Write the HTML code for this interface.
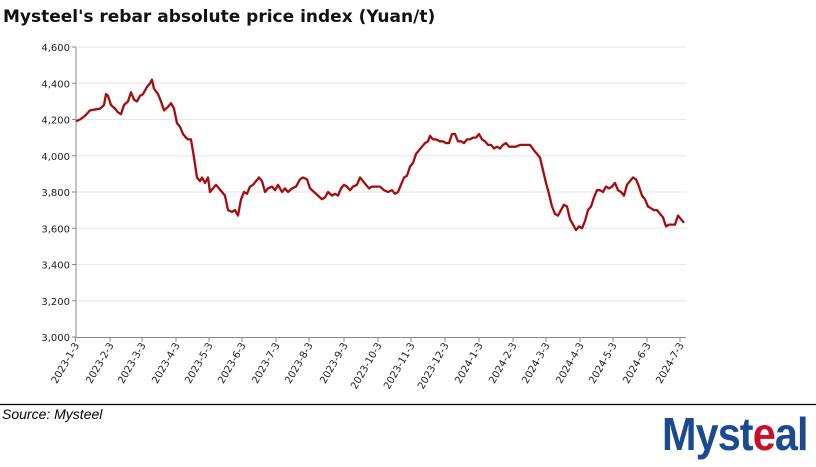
<!DOCTYPE html>
<html><head><style>
body{margin:0;width:816px;height:462px;background:#fff;overflow:hidden;font-family:"Liberation Sans",sans-serif;}
</style></head><body>
<svg width="816" height="462" xmlns="http://www.w3.org/2000/svg">
<text x="3" y="22" font-family="DejaVu Sans,sans-serif" font-weight="bold" font-size="17" fill="#111">Mysteel's rebar absolute price index (Yuan/t)</text>
<g id="grid" stroke="#e6e6e6" stroke-width="1"></g>
<g id="yl" font-family="DejaVu Sans,sans-serif" font-size="10" fill="#222" text-anchor="end"></g>
<line x1="76" y1="47" x2="76" y2="337.5" stroke="#888"/>
<line x1="76" y1="337.5" x2="686" y2="337.5" stroke="#888"/>
<g id="xl" font-family="DejaVu Sans,sans-serif" font-size="10" fill="#222" text-anchor="end"></g>
<polyline id="ln" fill="none" stroke="#a50d0d" stroke-width="2.3" stroke-linejoin="round"/>
<line x1="0" y1="404.5" x2="816" y2="404.5" stroke="#000" stroke-width="1.2"/>
<text x="2" y="419" font-style="italic" font-size="14" fill="#000">Source: Mysteel</text>
<text x="662" y="450" font-weight="bold" font-size="46" fill="#1b4a8f" transform="translate(662 0) scale(0.9 1) translate(-662 0)" letter-spacing="-1">Myst<tspan fill="#c8102e">e</tspan>al</text>
</svg>
<script>
const Y=v=>47+(4600-v)*0.18125;
const g=document.getElementById('grid'),yl=document.getElementById('yl'),xl=document.getElementById('xl');
const ns='http://www.w3.org/2000/svg';
for(let v=3000;v<=4600;v+=200){const y=Y(v);
 if(v>3000){let l=document.createElementNS(ns,'line');l.setAttribute('x1',76);l.setAttribute('x2',686);l.setAttribute('y1',y);l.setAttribute('y2',y);g.appendChild(l);}
 let t=document.createElementNS(ns,'text');t.setAttribute('x',70);t.setAttribute('y',y+4);t.textContent=(v/1000|0)+','+String(v%1000).padStart(3,'0');yl.appendChild(t);
 let k=document.createElementNS(ns,'line');k.setAttribute('x1',72);k.setAttribute('x2',76);k.setAttribute('y1',y);k.setAttribute('y2',y);k.setAttribute('stroke','#888');yl.appendChild(k);}
const xs=[75.5,110,142,176,209,242,276,309,344,378,411,445,479,513,546,580,613,647,680];
const lb=['2023-1-3','2023-2-3','2023-3-3','2023-4-3','2023-5-3','2023-6-3','2023-7-3','2023-8-3','2023-9-3','2023-10-3','2023-11-3','2023-12-3','2024-1-3','2024-2-3','2024-3-3','2024-4-3','2024-5-3','2024-6-3','2024-7-3'];
xs.forEach((x,i)=>{let k=document.createElementNS(ns,'line');k.setAttribute('x1',x);k.setAttribute('x2',x);k.setAttribute('y1',337.5);k.setAttribute('y2',342);k.setAttribute('stroke','#888');xl.appendChild(k);
 let t=document.createElementNS(ns,'text');t.setAttribute('transform',`translate(${x+4},${345}) rotate(-60)`);t.textContent=lb[i];xl.appendChild(t);});
const d=[76,4190,80,4200,85,4220,90,4250,95,4255,100,4260,104,4280,106,4340,108,4330,111,4280,115,4260,118,4240,121,4230,124,4280,128,4300,131,4350,134,4310,137,4300,140,4330,143,4340,147,4380,150,4400,152,4420,154,4370,158,4340,161,4300,164,4250,168,4270,171,4290,174,4260,177,4180,180,4160,183,4120,186,4100,188,4090,191,4090,194,3990,197,3880,200,3860,202,3880,205,3850,208,3880,210,3800,213,3820,216,3840,219,3820,222,3800,225,3780,228,3700,232,3690,235,3700,238,3670,241,3760,244,3800,247,3790,250,3830,253,3840,256,3860,259,3880,262,3860,265,3800,268,3820,272,3830,275,3810,278,3840,282,3800,285,3820,288,3800,292,3820,296,3830,300,3870,303,3880,307,3870,310,3820,314,3800,318,3780,322,3760,325,3770,328,3800,332,3780,335,3790,338,3780,341,3820,344,3840,347,3830,350,3810,353,3830,357,3840,360,3880,363,3860,366,3840,369,3820,372,3830,376,3830,380,3830,384,3810,388,3800,392,3810,395,3790,398,3800,401,3840,404,3880,407,3890,410,3940,413,3960,416,4010,419,4030,422,4050,425,4070,428,4080,430,4110,433,4090,436,4090,440,4080,443,4080,446,4070,449,4070,452,4120,455,4120,458,4080,461,4080,464,4070,467,4090,470,4090,473,4100,476,4100,479,4120,482,4090,485,4080,488,4060,491,4060,494,4040,497,4050,500,4040,503,4060,506,4070,509,4050,512,4050,516,4050,520,4060,525,4060,530,4060,534,4030,537,4010,540,3990,543,3920,546,3850,549,3790,552,3720,555,3680,558,3670,561,3700,564,3730,567,3720,570,3650,573,3620,576,3590,579,3610,582,3600,585,3640,588,3700,591,3720,594,3770,597,3810,600,3810,603,3800,606,3830,609,3820,612,3830,615,3850,618,3810,621,3800,624,3780,627,3840,630,3860,633,3880,636,3870,639,3830,642,3780,645,3760,648,3720,651,3710,654,3700,657,3700,660,3680,663,3660,666,3610,669,3620,672,3620,675,3620,678,3670,681,3650,684,3630];
let p=[];for(let i=0;i<d.length;i+=2)p.push(d[i]+','+Y(d[i+1]).toFixed(1));
document.getElementById('ln').setAttribute('points',p.join(' '));
</script>
</body></html>
